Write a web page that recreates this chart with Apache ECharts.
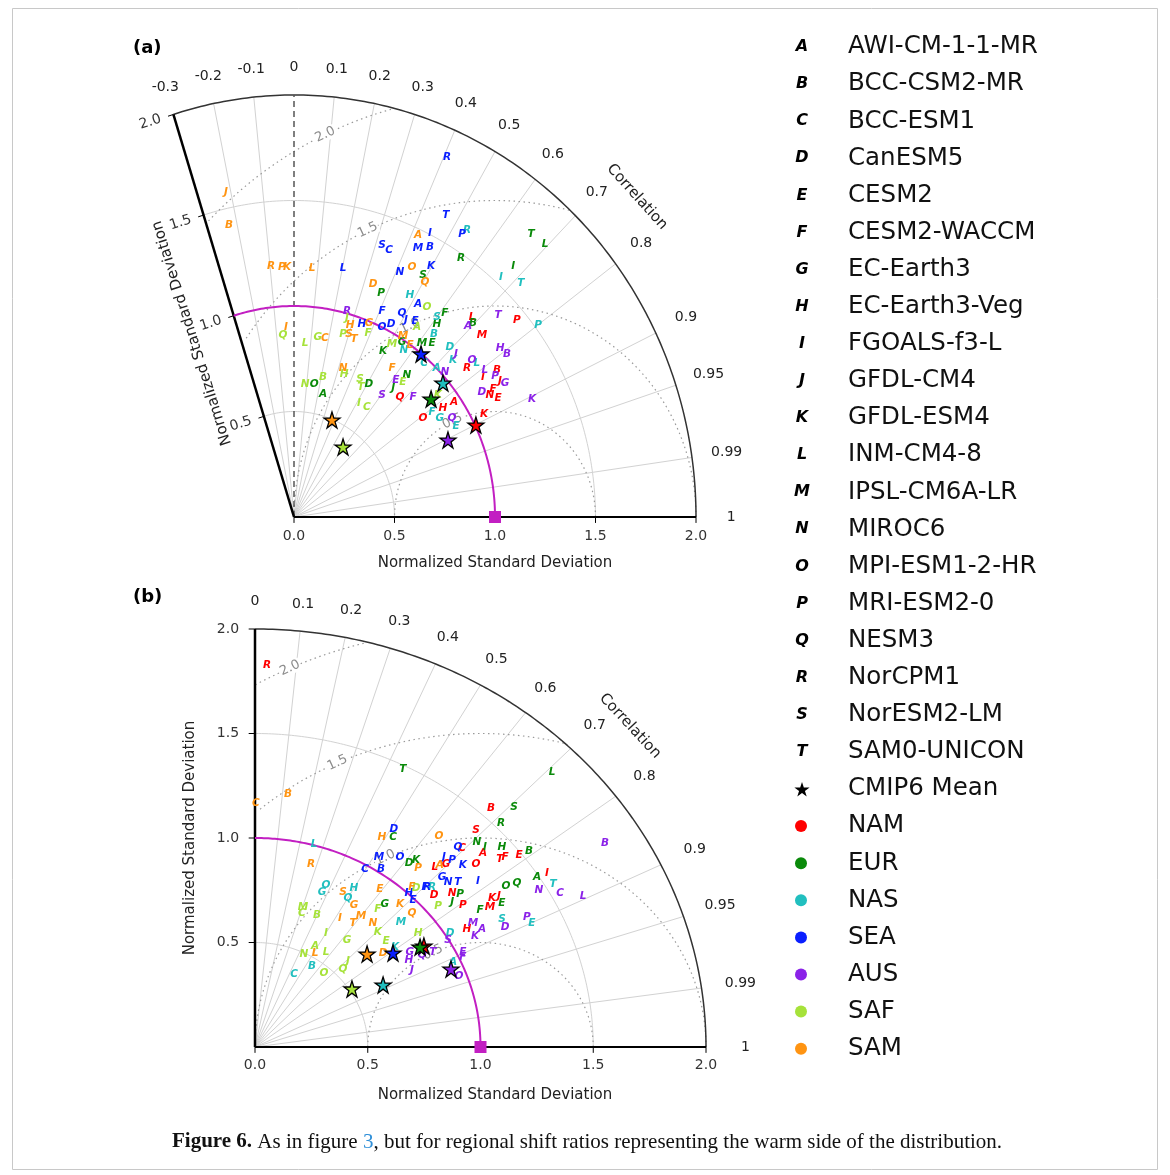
<!DOCTYPE html>
<html>
<head>
<meta charset="utf-8">
<script src="https://cdn.jsdelivr.net/npm/echarts@6/dist/echarts.min.js"></script>
<style>
html, body { margin: 0; padding: 0; background: #fff; }
#main { width: 1170px; height: 1175px; }
</style>
</head>
<body>
<div id="main"></div>
<script>
// regions, models and ticks
var regionNames = ['NAM', 'EUR', 'NAS', 'SEA', 'AUS', 'SAF', 'SAM'];
var regionColors = ['#ff0000', '#0a8a0a', '#21bfbf', '#0a1fff', '#8b22e8', '#a6e23a', '#ff9412'];
var modelLetters = ['A','B','C','D','E','F','G','H','I','J','K','L','M','N','O','P','Q','R','S','T'];
var modelNames = ['AWI-CM-1-1-MR','BCC-CSM2-MR','BCC-ESM1','CanESM5','CESM2','CESM2-WACCM','EC-Earth3',
    'EC-Earth3-Veg','FGOALS-f3-L','GFDL-CM4','GFDL-ESM4','INM-CM4-8','IPSL-CM6A-LR','MIROC6',
    'MPI-ESM1-2-HR','MRI-ESM2-0','NESM3','NorCPM1','NorESM2-LM','SAM0-UNICON'];
var corrTicksA = [-0.3, -0.2, -0.1, 0, 0.1, 0.2, 0.3, 0.4, 0.5, 0.6, 0.7, 0.8, 0.9, 0.95, 0.99, 1];
var corrTicksB = [0, 0.1, 0.2, 0.3, 0.4, 0.5, 0.6, 0.7, 0.8, 0.9, 0.95, 0.99, 1];
var stdTicks = [0.5, 1.0, 1.5, 2.0];
var stdAxisTicks = [0.0, 0.5, 1.0, 1.5, 2.0];
var rmsTicks = [0.5, 1.0, 1.5, 2.0];

// panel (a): [x, y, model] in normalized std units (x = std*corr, y = std*sin)
var aNAM = [[0.886,0.948,'L'],[1.109,0.934,'P'],[0.935,0.863,'M'],[0.861,0.706,'R'],[0.940,0.664,'I'],[1.010,0.697,'B'],
    [1.025,0.645,'J'],[0.990,0.607,'F'],[0.975,0.578,'N'],[1.015,0.564,'E'],[0.527,0.569,'Q'],[0.796,0.545,'A'],
    [0.741,0.517,'H'],[0.642,0.469,'O'],[0.945,0.488,'K']];
var aEUR = [[0.433,1.062,'P'],[1.179,1.341,'T'],[1.249,1.294,'L'],[0.831,1.227,'R'],[1.090,1.190,'I'],[0.642,1.147,'S'],
    [0.751,0.967,'F'],[0.711,0.915,'H'],[0.891,0.919,'B'],[0.537,0.829,'G'],[0.637,0.825,'M'],[0.687,0.825,'E'],
    [0.443,0.787,'K'],[0.562,0.673,'N'],[0.493,0.611,'J'],[0.100,0.630,'O'],[0.144,0.583,'A'],[0.373,0.630,'D']];
var aNAS = [[0.861,1.360,'R'],[1.030,1.137,'I'],[1.129,1.109,'T'],[0.577,1.052,'H'],[0.711,0.948,'S'],[1.214,0.910,'P'],
    [0.697,0.867,'B'],[0.547,0.791,'N'],[0.776,0.806,'D'],[0.791,0.744,'K'],[0.647,0.730,'C'],[0.910,0.730,'L'],
    [0.711,0.706,'A'],[0.687,0.498,'F'],[0.726,0.469,'G'],[0.806,0.431,'E']];
var aSEA = [[0.761,1.706,'R'],[0.756,1.431,'T'],[0.677,1.346,'I'],[0.836,1.341,'P'],[0.438,1.289,'S'],[0.473,1.265,'C'],
    [0.617,1.275,'M'],[0.677,1.280,'B'],[0.244,1.180,'L'],[0.527,1.161,'N'],[0.682,1.190,'K'],[0.438,0.976,'F'],
    [0.617,1.009,'A'],[0.537,0.967,'Q'],[0.602,0.929,'E'],[0.438,0.900,'O'],[0.483,0.915,'D'],[0.338,0.915,'H'],
    [0.557,0.934,'J']];
var aAUS = [[0.264,0.976,'R'],[1.015,0.957,'T'],[0.866,0.905,'A'],[1.025,0.801,'H'],[1.060,0.773,'B'],[0.806,0.773,'J'],
    [0.886,0.744,'O'],[0.950,0.697,'L'],[1.000,0.668,'P'],[1.050,0.635,'G'],[0.751,0.687,'N'],[0.507,0.649,'E'],
    [0.935,0.592,'D'],[1.184,0.559,'K'],[0.438,0.578,'S'],[0.592,0.569,'F'],[0.786,0.469,'Q']];
var aSAF = [[0.662,0.995,'O'],[0.612,0.900,'A'],[0.488,0.820,'M'],[0.542,0.640,'E'],[0.716,0.578,'K'],[-0.055,0.863,'Q'],
    [0.055,0.825,'L'],[0.119,0.853,'G'],[0.264,0.943,'J'],[0.244,0.867,'P'],[0.368,0.872,'F'],[0.249,0.678,'H'],
    [0.144,0.664,'B'],[0.055,0.630,'N'],[0.328,0.654,'S'],[0.333,0.616,'T'],[0.323,0.540,'I'],[0.363,0.521,'C']];
var aSAM = [[-0.338,1.540,'J'],[-0.323,1.384,'B'],[-0.114,1.190,'R'],[-0.060,1.185,'P'],[-0.035,1.185,'K'],[0.090,1.180,'L'],
    [0.393,1.104,'D'],[0.617,1.336,'A'],[0.587,1.185,'O'],[0.652,1.114,'Q'],[0.542,0.858,'M'],[0.577,0.815,'E'],
    [0.488,0.706,'F'],[-0.040,0.900,'I'],[0.154,0.848,'C'],[0.279,0.910,'H'],[0.373,0.919,'G'],[0.274,0.867,'S'],
    [0.299,0.844,'T'],[0.244,0.706,'N']];
var aMeans = [[0.905,0.436],[0.682,0.559],[0.741,0.635],[0.632,0.773],[0.766,0.365],[0.244,0.332],[0.189,0.460]];

// panel (b)
var bNAM = [[0.053,1.828,'R'],[1.047,1.144,'B'],[0.980,1.038,'S'],[0.918,0.952,'C'],[1.011,0.928,'A'],[1.171,0.919,'E'],
    [1.109,0.909,'F'],[1.086,0.900,'T'],[0.798,0.861,'L'],[0.847,0.876,'G'],[0.980,0.876,'O'],[1.295,0.833,'I'],
    [0.794,0.727,'D'],[0.874,0.737,'N'],[1.051,0.713,'K'],[1.082,0.722,'J'],[1.042,0.670,'M'],[0.922,0.679,'P'],
    [0.940,0.565,'H']];
var bEUR = [[0.656,1.330,'T'],[1.317,1.316,'L'],[1.149,1.148,'S'],[1.091,1.072,'R'],[0.984,0.981,'N'],[1.020,0.957,'I'],
    [1.095,0.957,'H'],[1.215,0.938,'B'],[0.612,1.005,'C'],[0.683,0.880,'D'],[0.714,0.895,'K'],[1.251,0.813,'A'],
    [1.113,0.770,'O'],[1.162,0.785,'Q'],[0.909,0.732,'P'],[1.095,0.689,'E'],[0.874,0.694,'J'],[0.998,0.656,'F'],
    [0.576,0.684,'G']];
var bNAS = [[0.262,0.971,'L'],[0.315,0.775,'O'],[0.297,0.742,'G'],[0.439,0.761,'H'],[0.412,0.713,'Q'],[0.647,0.598,'M'],
    [0.621,0.478,'K'],[0.253,0.388,'B'],[0.173,0.349,'C'],[1.322,0.780,'T'],[0.785,0.766,'R'],[1.095,0.612,'S'],
    [1.228,0.593,'E'],[0.865,0.545,'D'],[0.878,0.407,'A']];
var bSEA = [[0.616,1.043,'D'],[0.550,0.909,'M'],[0.643,0.909,'O'],[0.488,0.852,'C'],[0.559,0.852,'B'],[0.683,0.737,'H'],
    [0.763,0.766,'R'],[0.900,0.957,'Q'],[0.838,0.909,'J'],[0.874,0.895,'P'],[0.922,0.871,'K'],[0.829,0.813,'G'],
    [0.856,0.789,'N'],[0.900,0.789,'T'],[0.989,0.794,'I'],[0.754,0.766,'F'],[0.701,0.703,'E']];
var bAUS = [[1.552,0.976,'B'],[1.259,0.751,'N'],[1.353,0.737,'C'],[1.455,0.722,'L'],[1.206,0.622,'P'],[1.109,0.574,'D'],
    [0.967,0.593,'M'],[1.007,0.565,'A'],[0.976,0.531,'K'],[0.856,0.512,'S'],[0.922,0.455,'E'],[0.922,0.431,'F'],
    [0.789,0.455,'T'],[0.741,0.440,'Q'],[0.687,0.455,'G'],[0.683,0.416,'H'],[0.696,0.368,'J'],[0.905,0.340,'O']];
var bSAF = [[0.714,0.761,'D'],[0.812,0.675,'P'],[0.545,0.660,'F'],[0.213,0.670,'M'],[0.208,0.641,'C'],[0.275,0.632,'B'],
    [0.315,0.545,'I'],[0.408,0.512,'G'],[0.545,0.550,'K'],[0.581,0.507,'E'],[0.266,0.483,'A'],[0.723,0.545,'H'],
    [0.217,0.445,'N'],[0.315,0.455,'L'],[0.412,0.411,'J'],[0.390,0.373,'Q'],[0.306,0.354,'O']];
var bSAM = [[0.146,1.211,'B'],[0.004,1.167,'C'],[0.248,0.876,'R'],[0.563,1.005,'H'],[0.723,0.856,'P'],[0.816,1.010,'O'],
    [0.820,0.871,'A'],[0.390,0.742,'S'],[0.554,0.756,'E'],[0.696,0.766,'F'],[0.439,0.679,'G'],[0.643,0.684,'K'],
    [0.696,0.641,'Q'],[0.377,0.617,'I'],[0.470,0.627,'M'],[0.435,0.593,'T'],[0.523,0.593,'N'],[0.266,0.450,'L'],
    [0.568,0.450,'D']];
var bMeans = [[0.749,0.483],[0.732,0.478],[0.568,0.297],[0.612,0.450],[0.869,0.373],[0.430,0.278],[0.497,0.445]];

var FONT = 'DejaVu Sans';
var MAGENTA = '#c21fc2';
var STAR = 'path://M0,-10L2.245,-3.09L9.51,-3.09L3.633,1.18L5.88,8.09L0,3.82L-5.88,8.09L-3.633,1.18L-9.51,-3.09L-2.245,-3.09Z';

var myChart = echarts.init(document.getElementById('main'));

function arc(r, c0, c1) {
    var pts = [], t0 = Math.acos(c1), t1 = Math.acos(c0);
    for (var i = 0; i <= 160; i++) {
        var t = t0 + (t1 - t0) * i / 160;
        pts.push([r * Math.cos(t), r * Math.sin(t)]);
    }
    return pts;
}

function lineSeries(g, data, style, z) {
    return {
        type: 'line', xAxisIndex: g, yAxisIndex: g, data: data,
        showSymbol: false, symbol: 'none', silent: true, animation: false,
        lineStyle: style, z: z || 1
    };
}

function textSeries(g, items, lab, z) {
    var label = {
        show: true, position: 'inside', opacity: 1,
        formatter: function (p) { return p.value[2]; },
        fontFamily: FONT
    };
    for (var k in lab) label[k] = lab[k];
    return {
        type: 'scatter', xAxisIndex: g, yAxisIndex: g, data: items,
        symbolSize: 1, itemStyle: { color: 'rgba(0,0,0,0)', opacity: 1 },
        silent: true, animation: false, label: label, z: z || 3
    };
}

function buildPanel(g, cmin, corrTicks, regions, means) {
    var s = [];
    var tmax = Math.acos(cmin);
    var ux = cmin, uy = Math.sqrt(1 - cmin * cmin);   // left axis direction
    var px = -uy, py = ux;                            // outward normal
    var grey = { color: '#d2d2d2', width: 1 };

    // std-dev arcs
    s.push(lineSeries(g, arc(0.5, cmin, 1), grey));
    s.push(lineSeries(g, arc(1.5, cmin, 1), grey));
    // correlation spokes
    corrTicks.forEach(function (c) {
        if (c > cmin && c < 1 && c !== 0) {
            s.push(lineSeries(g, [[0, 0], [2 * c, 2 * Math.sqrt(1 - c * c)]], grey));
        }
    });
    // RMSD circles around the reference
    rmsTicks.forEach(function (d) {
        var pts = [];
        for (var i = 0; i <= 240; i++) {
            var t = Math.PI * i / 240;
            var x = 1 + d * Math.cos(t), y = d * Math.sin(t);
            if (Math.sqrt(x * x + y * y) <= 2.0005 && Math.atan2(y, x) <= tmax + 1e-9) pts.push([x, y]);
        }
        s.push(lineSeries(g, pts, { color: '#9a9a9a', width: 1.2, type: [1.5, 3.5] }));
    });
    var rmsLab = rmsTicks.map(function (d) {
        var t = 115 * Math.PI / 180;
        return [1 + d * Math.cos(t), d * Math.sin(t), d.toFixed(1)];
    });
    s.push(textSeries(g, rmsLab, {
        color: '#8c8c8c', fontSize: 13, rotate: 25,
        backgroundColor: '#fff', padding: [0, 1]
    }, 2));

    // frame
    s.push(lineSeries(g, arc(2, cmin, 1), { color: '#333', width: 1.5 }));
    s.push(lineSeries(g, [[0, 0], [2 * ux, 2 * uy]], { color: '#000', width: 2.5 }, 2));
    s.push(lineSeries(g, [[0, 0], [2, 0]], { color: '#000', width: 2 }, 2));
    if (cmin < 0) {
        s.push(lineSeries(g, [[0, 0], [0, 2]], { color: '#555', width: 1.5, type: [6, 4] }));
    }
    // left axis ticks + labels
    var leftLab = [];
    stdTicks.forEach(function (r) {
        s.push(lineSeries(g, [[r * ux, r * uy], [r * ux + 0.028 * px, r * uy + 0.028 * py]], { color: '#000', width: 1 }));
        leftLab.push([r * ux + 0.12 * px, r * uy + 0.12 * py, r.toFixed(1)]);
    });
    s.push(textSeries(g, leftLab, { color: '#333', fontSize: 14, rotate: (tmax - Math.PI / 2) * 180 / Math.PI }));
    // bottom axis ticks + labels
    var botLab = [];
    stdAxisTicks.forEach(function (v) {
        s.push(lineSeries(g, [[v, 0], [v, -0.028]], { color: '#000', width: 1 }));
        botLab.push([v, -0.09, v.toFixed(1)]);
    });
    s.push(textSeries(g, botLab, { color: '#333', fontSize: 14 }));
    // correlation labels
    var corrLab = corrTicks.map(function (c) {
        var r = 2.13 + 0.045 * c * c;
        return [r * c, r * Math.sqrt(1 - c * c), String(c)];
    });
    s.push(textSeries(g, corrLab, { color: '#222', fontSize: 14 }));

    // reference std arc
    s.push(lineSeries(g, arc(1, cmin, 1), { color: MAGENTA, width: 2 }, 2));

    // model letters by region
    regions.forEach(function (pts, i) {
        s.push(textSeries(g, pts, {
            color: regionColors[i], fontSize: 10.5, fontWeight: 'bold', fontStyle: 'italic'
        }, 3));
    });
    // CMIP6 mean stars
    s.push({
        type: 'scatter', xAxisIndex: g, yAxisIndex: g, symbol: STAR, symbolSize: 16,
        silent: true, animation: false, z: 4,
        data: means.map(function (m, i) {
            return { value: m, itemStyle: { color: regionColors[i], borderColor: '#000', borderWidth: 1.3, opacity: 1 } };
        })
    });
    // reference point
    s.push({
        type: 'scatter', xAxisIndex: g, yAxisIndex: g, symbol: 'rect', symbolSize: 12,
        silent: true, animation: false, z: 5,
        itemStyle: { color: MAGENTA, opacity: 1 }, data: [[1, 0]]
    });
    return s;
}

var series = [].concat(
    buildPanel(0, -0.3, corrTicksA, [aNAM, aEUR, aNAS, aSEA, aAUS, aSAF, aSAM], aMeans),
    buildPanel(1, 0, corrTicksB, [bNAM, bEUR, bNAS, bSEA, bAUS, bSAF, bSAM], bMeans)
);

// legend + titles as graphic text
var graphics = [];
graphics.push({ type: 'rect', shape: { x: 12.5, y: 8.5, width: 1145, height: 1161 },
    style: { fill: 'none', stroke: '#c8c8c8', lineWidth: 1 }, silent: true });

function txt(x, y, text, font, opts) {
    var el = { type: 'text', x: x, y: y, silent: true,
        style: { text: text, font: font, fill: '#222', textAlign: 'center', textVerticalAlign: 'middle' } };
    if (opts) for (var k in opts) {
        if (k === 'rotation') el.rotation = opts[k]; else el.style[k] = opts[k];
    }
    return el;
}
graphics.push(txt(133, 48, '(a)', 'bold 18px "DejaVu Sans"', { textAlign: 'left', fill: '#000' }));
graphics.push(txt(133, 597, '(b)', 'bold 18px "DejaVu Sans"', { textAlign: 'left', fill: '#000' }));
graphics.push(txt(495, 563, 'Normalized Standard Deviation', '15px "DejaVu Sans"'));
graphics.push(txt(495, 1095, 'Normalized Standard Deviation', '15px "DejaVu Sans"'));
graphics.push(txt(192, 333, 'Normalized Standard Deviation', '15px "DejaVu Sans"', { rotation: 107.5 * Math.PI / 180 }));
graphics.push(txt(190, 838, 'Normalized Standard Deviation', '15px "DejaVu Sans"', { rotation: Math.PI / 2 }));
graphics.push(txt(637, 197, 'Correlation', '15px "DejaVu Sans"', { rotation: -48 * Math.PI / 180 }));
graphics.push(txt(630, 726, 'Correlation', '15px "DejaVu Sans"', { rotation: -47 * Math.PI / 180 }));

var rowY0 = 47, rowStep = 37.1;
modelLetters.forEach(function (l, i) {
    var y = rowY0 + i * rowStep;
    graphics.push(txt(802, y, l, 'italic bold 16px "DejaVu Sans"', { fill: '#000' }));
    graphics.push(txt(848, y, modelNames[i], '24.5px "DejaVu Sans"', { textAlign: 'left', fill: '#111' }));
});
var starY = rowY0 + 20 * rowStep;
var starPts = [];
for (var k = 0; k < 10; k++) {
    var ang = -Math.PI / 2 + k * Math.PI / 5, rr = (k % 2 === 0) ? 8 : 3.1;
    starPts.push([802 + rr * Math.cos(ang), starY + 1 + rr * Math.sin(ang)]);
}
graphics.push({ type: 'polygon', shape: { points: starPts }, style: { fill: '#000' }, silent: true });
graphics.push(txt(848, starY, 'CMIP6 Mean', '24.5px "DejaVu Sans"', { textAlign: 'left', fill: '#111' }));
regionNames.forEach(function (r, i) {
    var y = rowY0 + (21 + i) * rowStep;
    graphics.push({ type: 'circle', shape: { cx: 801, cy: y, r: 6 }, style: { fill: regionColors[i] }, silent: true });
    graphics.push(txt(848, y, r, '24.5px "DejaVu Sans"', { textAlign: 'left', fill: '#111' }));
});

graphics.push({
    type: 'text', x: 172, y: 1142, silent: true,
    style: {
        text: '{b|Figure 6.} As in figure {l|3}, but for regional shift ratios representing the warm side of the distribution.',
        font: '21px "Liberation Serif"', fill: '#111', textAlign: 'left', textVerticalAlign: 'middle',
        rich: {
            b: { fontWeight: 'bold', fontSize: 21, fontFamily: 'Liberation Serif', fill: '#111' },
            l: { fontSize: 21, fontFamily: 'Liberation Serif', fill: '#2f8fd8' }
        }
    }
});

var option = {
    backgroundColor: '#fff',
    animation: false,
    grid: [
        { left: 133.2, top: 10.6, width: 643.2, height: 548.6 },
        { left: 209.9, top: 545.4, width: 586.3, height: 543.4 }
    ],
    xAxis: [
        { gridIndex: 0, type: 'value', min: -0.8, max: 2.4, show: false },
        { gridIndex: 1, type: 'value', min: -0.2, max: 2.4, show: false }
    ],
    yAxis: [
        { gridIndex: 0, type: 'value', min: -0.2, max: 2.4, show: false },
        { gridIndex: 1, type: 'value', min: -0.2, max: 2.4, show: false }
    ],
    graphic: graphics,
    series: series
};
myChart.setOption(option, true);
</script>
</body>
</html>
